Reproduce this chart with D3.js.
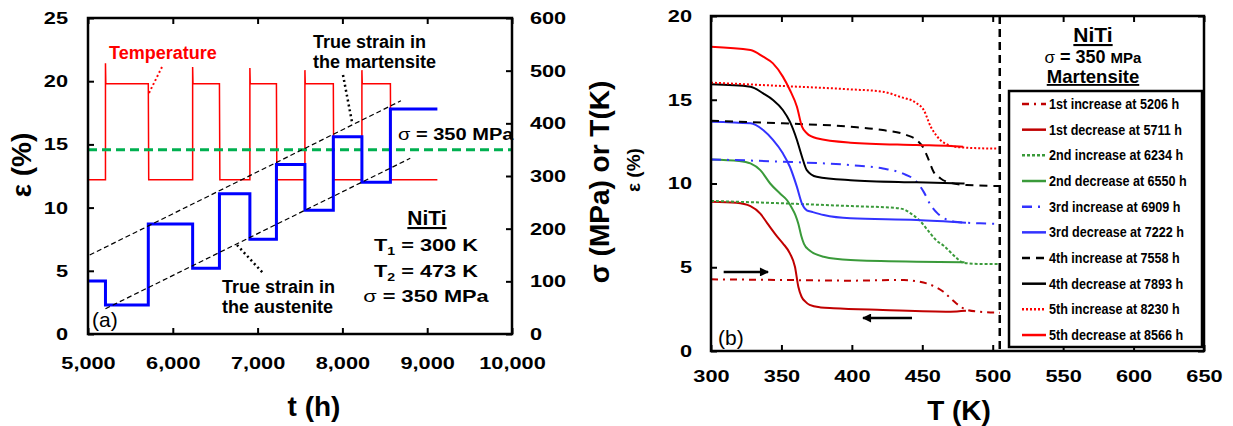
<!DOCTYPE html>
<html>
<head>
<meta charset="utf-8">
<script src="https://d3js.org/d3.v7.min.js"></script>
<style>
  html, body { margin: 0; padding: 0; background: #fff; }
  svg { display: block; }
</style>
</head>
<body>
<svg id="chart" width="1233" height="426"></svg>
<script>
// ---------- Panel (a): strain and temperature history under 350 MPa ----------
const cycleTimes   = [5000, 5206, 5711, 6234, 6550, 6909, 7222, 7558, 7893, 8230, 8566, 9120];
const strainLevels = [4.2, 2.3, 8.7, 5.2, 11.1, 7.5, 13.4, 9.8, 15.6, 12.0, 17.8];
const tempLevels   = [293, 475, 293, 475, 293, 475, 293, 475, 293, 475, 293];
const heatingPeaks = [514, 507, 505, 501, 501];
const appliedStress = 350;
const martensiteTrend = [[5020, 6.25], [8690, 18.45]];
const austeniteTrend  = [[5206, 2.0], [8800, 13.9]];
const timeTicks    = [5000, 6000, 7000, 8000, 9000, 10000];
const strainTicksA = [0, 5, 10, 15, 20, 25];
const stressTicks  = [0, 100, 200, 300, 400, 500, 600];

// ---------- Panel (b): strain vs temperature for each thermal excursion ----------
const inc1 = [[300,4.28],[350,4.24],[400,4.2],[437,4.24],[445,4.18],[453,4.04],[460,3.8],[465,3.54],[470,3.15],[474,2.85],[478,2.6],[482,2.45],[490,2.35],[505,2.29]];
const dec1 = [[300,8.91],[318,8.85],[328,8.65],[335,8.2],[340,7.62],[347,6.83],[351,6.43],[356,5.83],[359.6,5.03],[362,3.84],[364.3,3.24],[367,2.95],[370,2.75],[378,2.6],[387,2.55],[422,2.45],[470,2.35],[481,2.4]];
const inc2 = [[300,8.96],[350,8.82],[400,8.65],[430,8.55],[437,8.45],[442,8.2],[448,7.8],[454,7.2],[460,6.6],[465,6.3],[470,5.9],[475,5.5],[479,5.27],[490,5.2],[505,5.19]];
const dec2 = [[300,11.44],[320,11.35],[328,11.2],[335,10.8],[342,10.0],[349,9.4],[354,9.0],[357,8.6],[360,8.1],[362,7.6],[364,6.9],[366,6.4],[370,6.0],[380,5.63],[399,5.43],[446,5.33],[480,5.3]];
const inc3 = [[300,11.44],[351,11.3],[399,11.1],[422,10.9],[436,10.6],[446,10.1],[451,9.5],[456,8.7],[461,8.2],[466,7.9],[475,7.7],[491,7.62],[505,7.58]];
const dec3 = [[300,13.69],[328,13.59],[337,13.19],[344,12.6],[351,11.8],[356,11.0],[361,9.8],[364.6,8.8],[368,8.4],[372,8.3],[380,8.12],[399,7.92],[446,7.82],[481,7.66]];
const inc4 = [[300,13.75],[351,13.59],[399,13.39],[422,13.19],[438.6,12.9],[446,12.6],[451,12.1],[454.6,11.4],[458,10.7],[463,10.3],[467.5,10.1],[481.5,9.91],[505,9.85]];
const dec4 = [[300,15.92],[328,15.78],[337,15.38],[344,14.99],[351,14.39],[356,13.69],[361,12.6],[364.6,11.6],[368,10.8],[375,10.4],[399,10.2],[446,10.07],[480,10.0]];
const inc5 = [[300,16.02],[351,15.82],[399,15.62],[422,15.48],[434,15.18],[446,14.79],[451,14.39],[456,13.39],[460.6,12.8],[465,12.45],[476.7,12.16],[504,12.08]];
const dec5 = [[300,18.17],[328,17.97],[337,17.57],[344,17.17],[351,16.38],[356,15.58],[361,14.58],[364.6,13.39],[368,13.0],[375,12.7],[399,12.44],[446,12.3],[470,12.24],[479,12.2]];

const cycleCurves = [inc1, dec1, inc2, dec2, inc3, dec3, inc4, dec4, inc5, dec5];
const cycleLabels = [
  "1st increase at 5206 h", "1st decrease at 5711 h",
  "2nd increase at 6234 h", "2nd decrease at 6550 h",
  "3rd increase at 6909 h", "3rd decrease at 7222 h",
  "4th increase at 7558 h", "4th decrease at 7893 h",
  "5th increase at 8230 h", "5th decrease at 8566 h"
];
const cycleColors = ["#c00000", "#c00000", "#3a9a3a", "#3a9a3a", "#3333ff", "#3333ff", "#000000", "#000000", "#ff0000", "#ff0000"];
const cycleDashes = ["7,5,2,5", null, "3,2", null, "10,6,2,6", null, "8,6", null, "2,2", null];
const tempTicksB   = [300, 350, 400, 450, 500, 550, 600, 650];
const strainTicksB = [0, 5, 10, 15, 20];
const boundaryTemp = 505;
const heatArrow = [[309, 4.72], [340.5, 4.72]];
const coolArrow = [[442.7, 1.97], [407.9, 1.97]];

// ---------- helpers ----------
const FONT = '"Liberation Sans", Arial, Helvetica, sans-serif';
const TICK_SX = 1.28;
const svg = d3.select("#chart");

function addText(parent, x, y, str, o = {}) {
  const t = parent.append("text")
    .attr("transform", `translate(${x},${y})` + (o.rotate ? ` rotate(${o.rotate})` : "") + (o.sx ? ` scale(${o.sx},1)` : ""))
    .attr("font-family", FONT)
    .attr("font-size", o.size || 18)
    .attr("font-weight", o.weight || "bold")
    .attr("fill", o.color || "#000")
    .attr("text-anchor", o.anchor || "start");
  if (o.underline) t.attr("text-decoration", "underline");
  if (str !== null) t.text(str);
  return t;
}

function styleAxis(g, showText) {
  g.select(".domain").remove();
  g.selectAll(".tick line").attr("stroke", "#000").attr("stroke-width", 2);
  if (showText) {
    g.selectAll(".tick text")
      .attr("font-family", FONT).attr("font-size", 17).attr("font-weight", "bold")
      .attr("fill", "#000").attr("transform", `scale(${TICK_SX},1)`);
  } else {
    g.selectAll(".tick text").remove();
  }
}

// ================= Panel (a) =================
const xA  = d3.scaleLinear().domain([5000, 10000]).range([88, 512]);
const yA  = d3.scaleLinear().domain([0, 25]).range([334, 18]);
const yA2 = d3.scaleLinear().domain([0, 600]).range([334, 18]);
const gA = svg.append("g");

gA.append("g").attr("transform", "translate(0,334)")
  .call(d3.axisBottom(xA).tickValues(timeTicks).tickFormat(d3.format(",")).tickSizeInner(-6).tickSizeOuter(0).tickPadding(23))
  .call(g => styleAxis(g, true));
gA.append("g").attr("transform", "translate(0,18)")
  .call(d3.axisTop(xA).tickValues(timeTicks).tickSizeInner(-6).tickSizeOuter(0))
  .call(g => styleAxis(g, false));
gA.append("g").attr("transform", "translate(88,0)")
  .call(d3.axisLeft(yA).tickValues(strainTicksA).tickSizeInner(-6).tickSizeOuter(0).tickPadding(15.6))
  .call(g => styleAxis(g, true));
gA.append("g").attr("transform", "translate(512,0)")
  .call(d3.axisRight(yA2).tickValues(stressTicks).tickSizeInner(-6).tickSizeOuter(0).tickPadding(14))
  .call(g => styleAxis(g, true));

// temperature trace (right axis), with overshoot at each heating step
const tempPts = [[cycleTimes[0], tempLevels[0]]];
let peakIdx = 0;
for (let i = 1; i < tempLevels.length; i++) {
  const t = cycleTimes[i], prev = tempLevels[i - 1], next = tempLevels[i];
  tempPts.push([t, prev]);
  if (next > prev) { tempPts.push([t, heatingPeaks[peakIdx++]]); tempPts.push([t + 4, next]); }
  else { tempPts.push([t + 5, next]); }
}
tempPts.push([cycleTimes[cycleTimes.length - 1], tempLevels[tempLevels.length - 1]]);
gA.append("path").datum(tempPts)
  .attr("fill", "none").attr("stroke", "#ff0000").attr("stroke-width", 1.5)
  .attr("d", d3.line().x(d => xA(d[0])).y(d => yA2(d[1])));

// applied stress level
gA.append("line")
  .attr("x1", xA(5000)).attr("x2", xA(10000))
  .attr("y1", yA2(appliedStress)).attr("y2", yA2(appliedStress))
  .attr("stroke", "#00b050").attr("stroke-width", 3).attr("stroke-dasharray", "9,5");

// strain history
const strainPts = strainLevels.map((s, i) => [cycleTimes[i], s]);
strainPts.push([cycleTimes[cycleTimes.length - 1], strainLevels[strainLevels.length - 1]]);
gA.append("path").datum(strainPts)
  .attr("fill", "none").attr("stroke", "#0000ff").attr("stroke-width", 3)
  .attr("d", d3.line().curve(d3.curveStepAfter).x(d => xA(d[0])).y(d => yA(d[1])));

// trend lines for the two phases
[martensiteTrend, austeniteTrend].forEach(tr => {
  gA.append("path").datum(tr)
    .attr("fill", "none").attr("stroke", "#000").attr("stroke-width", 1.2).attr("stroke-dasharray", "5,3")
    .attr("d", d3.line().x(d => xA(d[0])).y(d => yA(d[1])));
});

gA.append("rect").attr("x", 88).attr("y", 18).attr("width", 424).attr("height", 316)
  .attr("fill", "none").attr("stroke", "#000").attr("stroke-width", 2.5);

// annotations (a)
addText(gA, 109, 59, "Temperature", { color: "#ff0000", size: 18 });
gA.append("line").attr("x1", 162).attr("y1", 67).attr("x2", 149).attr("y2", 93)
  .attr("stroke", "#ff0000").attr("stroke-width", 2).attr("stroke-dasharray", "2,2.5");
addText(gA, 313, 48, "True strain in", { size: 18 });
addText(gA, 313, 68, "the martensite", { size: 18 });
gA.append("line").attr("x1", 343).attr("y1", 75).attr("x2", 352).attr("y2", 122)
  .attr("stroke", "#000").attr("stroke-width", 2.5).attr("stroke-dasharray", "2,3");
addText(gA, 222, 293, "True strain in", { size: 18 });
addText(gA, 222, 313, "the austenite", { size: 18 });
gA.append("line").attr("x1", 237).attr("y1", 245).attr("x2", 263).attr("y2", 273)
  .attr("stroke", "#000").attr("stroke-width", 2.5).attr("stroke-dasharray", "2,3");

const sLbl = addText(gA, 398, 140, null, { size: 17, sx: 1.18 });
sLbl.append("tspan").attr("font-weight", "normal").text("σ");
sLbl.append("tspan").text(" = 350 MPa");

addText(gA, 427, 225, "NiTi", { size: 21, anchor: "middle", underline: true });
[["1", "300"], ["2", "473"]].forEach(([sub, val], i) => {
  const t = addText(gA, 426, 251 + i * 26, null, { size: 17, sx: 1.28, anchor: "middle" });
  t.append("tspan").text("T");
  t.append("tspan").attr("font-size", 11).attr("dy", 4).text(sub);
  t.append("tspan").attr("dy", -4).text(` = ${val} K`);
});
const sLbl2 = addText(gA, 426, 302, null, { size: 17, sx: 1.28, anchor: "middle" });
sLbl2.append("tspan").attr("font-weight", "normal").text("σ");
sLbl2.append("tspan").text(" = 350 MPa");
addText(gA, 92, 327, "(a)", { size: 21, weight: "normal" });

// axis titles (a)
addText(gA, 314, 416, "t (h)", { size: 28, anchor: "middle" });
addText(gA, 31, 165, "ε (%)", { size: 28, anchor: "middle", rotate: -90 });
addText(gA, 609, 182, "σ (MPa) or T(K)", { size: 28, anchor: "middle", rotate: -90 });

// ================= Panel (b) =================
const xB = d3.scaleLinear().domain([300, 650]).range([711, 1204]);
const yB = d3.scaleLinear().domain([0, 20]).range([351, 16]);
const gB = svg.append("g");

gB.append("g").attr("transform", "translate(0,351)")
  .call(d3.axisBottom(xB).tickValues(tempTicksB).tickSizeInner(-6).tickSizeOuter(0).tickPadding(19))
  .call(g => styleAxis(g, true));
gB.append("g").attr("transform", "translate(0,16)")
  .call(d3.axisTop(xB).tickValues(tempTicksB).tickSizeInner(-6).tickSizeOuter(0))
  .call(g => styleAxis(g, false));
gB.append("g").attr("transform", "translate(711,0)")
  .call(d3.axisLeft(yB).tickValues(strainTicksB).tickSizeInner(-6).tickSizeOuter(0).tickPadding(14.8))
  .call(g => styleAxis(g, true));
gB.append("g").attr("transform", "translate(1204,0)")
  .call(d3.axisRight(yB).tickValues(strainTicksB).tickSizeInner(-6).tickSizeOuter(0))
  .call(g => styleAxis(g, false));

const lineB = d3.line().curve(d3.curveMonotoneX).x(d => xB(d[0])).y(d => yB(d[1]));
cycleCurves.forEach((c, i) => {
  const p = gB.append("path").datum(c)
    .attr("fill", "none").attr("stroke", cycleColors[i]).attr("stroke-width", 2)
    .attr("d", lineB);
  if (cycleDashes[i]) p.attr("stroke-dasharray", cycleDashes[i]);
});

// austenite-finish boundary
gB.append("line")
  .attr("x1", xB(boundaryTemp)).attr("x2", xB(boundaryTemp))
  .attr("y1", yB(20)).attr("y2", yB(0))
  .attr("stroke", "#000").attr("stroke-width", 2.5).attr("stroke-dasharray", "8,5");

// heating / cooling direction arrows
const defs = svg.append("defs");
defs.append("marker").attr("id", "head")
  .attr("viewBox", "0 0 10 10").attr("refX", 9).attr("refY", 5)
  .attr("markerWidth", 10).attr("markerHeight", 9).attr("markerUnits", "userSpaceOnUse")
  .attr("orient", "auto")
  .append("path").attr("d", "M0,0 L10,5 L0,10 z").attr("fill", "#000");
[heatArrow, coolArrow].forEach(a => {
  gB.append("line")
    .attr("x1", xB(a[0][0])).attr("y1", yB(a[0][1]))
    .attr("x2", xB(a[1][0])).attr("y2", yB(a[1][1]))
    .attr("stroke", "#000").attr("stroke-width", 2.5).attr("marker-end", "url(#head)");
});

// legend
const lg = gB.append("g");
lg.append("rect").attr("x", 1009).attr("y", 91).attr("width", 193).attr("height", 256)
  .attr("fill", "#fff").attr("stroke", "#000").attr("stroke-width", 2.5);
cycleLabels.forEach((lab, i) => {
  const cy = 104 + i * 25.67;
  const l = lg.append("line").attr("x1", 1022).attr("x2", 1046).attr("y1", cy).attr("y2", cy)
    .attr("stroke", cycleColors[i]).attr("stroke-width", 2.5);
  if (cycleDashes[i]) l.attr("stroke-dasharray", cycleDashes[i]);
  addText(lg, 1049, cy + 5, lab, { size: 14, sx: 0.9 });
});

gB.append("rect").attr("x", 711).attr("y", 16).attr("width", 493).attr("height", 335)
  .attr("fill", "none").attr("stroke", "#000").attr("stroke-width", 2.5);

// panel (b) title block
addText(gB, 1093, 42, "NiTi", { size: 21, anchor: "middle", underline: true });
const sT = addText(gB, 1093, 63, null, { size: 18, anchor: "middle" });
sT.append("tspan").attr("font-weight", "normal").attr("font-size", 17).text("σ");
sT.append("tspan").text(" = 350 ");
sT.append("tspan").attr("font-size", 15).text("MPa");
addText(gB, 1093, 83, "Martensite", { size: 18.5, anchor: "middle", underline: true });
addText(gB, 718, 345, "(b)", { size: 21, weight: "normal" });

// axis titles (b)
addText(gB, 959, 420, "T (K)", { size: 28, anchor: "middle" });
addText(gB, 640, 170, "ε (%)", { size: 19, anchor: "middle", rotate: -90 });
</script>
</body>
</html>
